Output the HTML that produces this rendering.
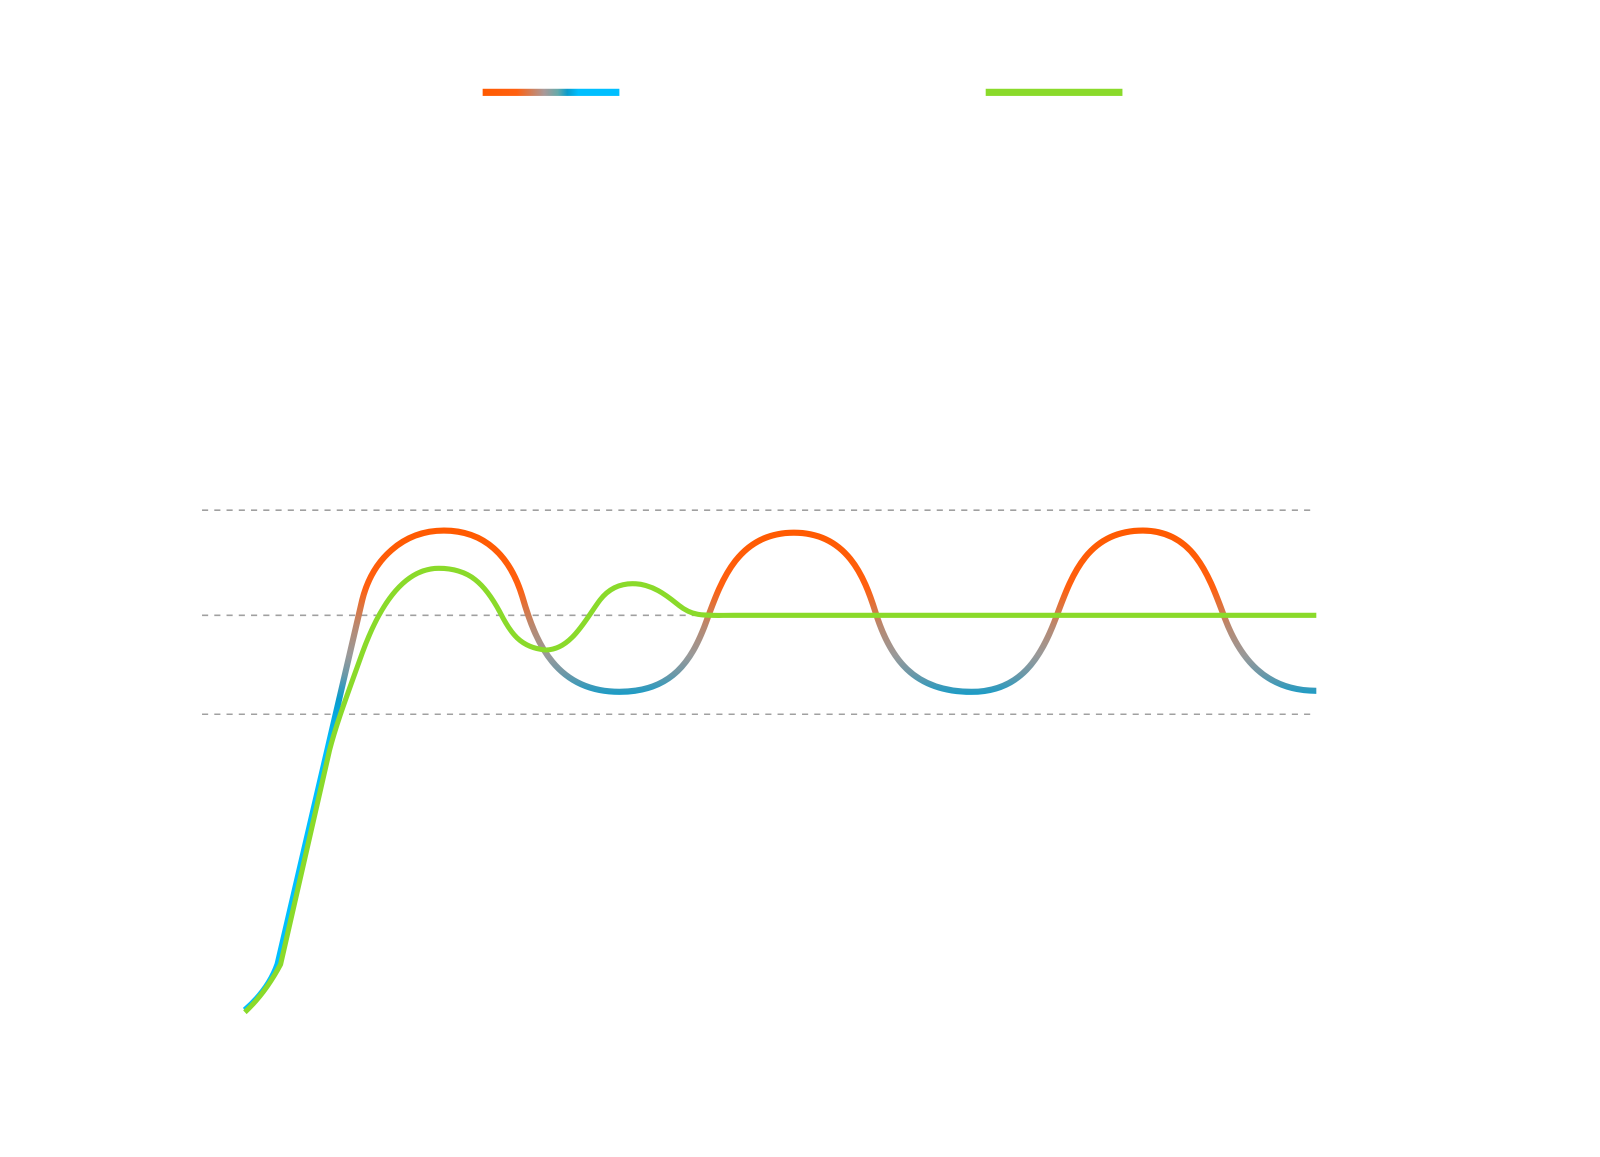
<!DOCTYPE html>
<html><head><meta charset="utf-8"><style>
html,body{margin:0;padding:0;background:#fff;overflow:hidden;}
svg{display:block;}
</style></head><body>
<svg width="1600" height="1157" viewBox="0 0 1600 1157" xmlns="http://www.w3.org/2000/svg">
<defs>
<linearGradient id="g" gradientUnits="userSpaceOnUse" x1="0" y1="520" x2="0" y2="990">
<stop offset="0" stop-color="#ff5a00"/>
<stop offset="0.12" stop-color="#ff6010"/>
<stop offset="0.2" stop-color="#b88870"/>
<stop offset="0.26" stop-color="#999"/>
<stop offset="0.3" stop-color="#6a98a8"/>
<stop offset="0.35" stop-color="#0a9ccc"/>
<stop offset="0.45" stop-color="#00bfff"/>
<stop offset="1" stop-color="#00bfff"/>
</linearGradient>
<linearGradient id="lg" x1="0" y1="0" x2="1" y2="0">
<stop offset="0" stop-color="#ff5a00"/>
<stop offset="0.25" stop-color="#ff6010"/>
<stop offset="0.45" stop-color="#a99"/>
<stop offset="0.55" stop-color="#6aa"/>
<stop offset="0.62" stop-color="#0a9ccc"/>
<stop offset="0.7" stop-color="#00bfff"/>
<stop offset="1" stop-color="#00bfff"/>
</linearGradient>
</defs>
<g transform="scale(1.0204)">
<g stroke="#a0a0a0" stroke-width="1.5" stroke-dasharray="6 6" fill="none">
<line x1="198" y1="500" x2="1290" y2="500"/>
<line x1="198" y1="603" x2="1290" y2="603"/>
<line x1="198" y1="700" x2="1290" y2="700"/>
</g>
<rect x="473" y="87" width="134" height="7" fill="url(#lg)"/>
<rect x="966" y="87" width="134" height="7" fill="#8ada2a"/>
<path d="M240,990 C255,977 266,962 272,945 L355,588 C365,548 395,520 435,520 C475,520 500,545 512,585 C525,630 545,678 607,678 C660,678 678,645 690,615 C705,575 720,522 778,522 C830,522 847,565 858,600 C872,645 895,678 952,678 C1000,678 1020,645 1035,605 C1050,565 1065,520 1120,520 C1170,520 1185,565 1200,605 C1215,645 1240,677 1290,677" fill="none" stroke="url(#g)" stroke-width="6"/>
<path d="M240,992 C255,978 266,962 275,945 L323,735 C330,708 340,682 355,640 C375,585 400,557 430,557 C460,557 475,572 490,600 C500,620 510,635 535,637 C560,637 575,605 588,588 C598,575 610,572 620,572 C640,572 655,585 665,593 C680,605 690,603 720,603 L1290,603" fill="none" stroke="#8ada2a" stroke-width="5"/>
</g>
</svg>
</body></html>
